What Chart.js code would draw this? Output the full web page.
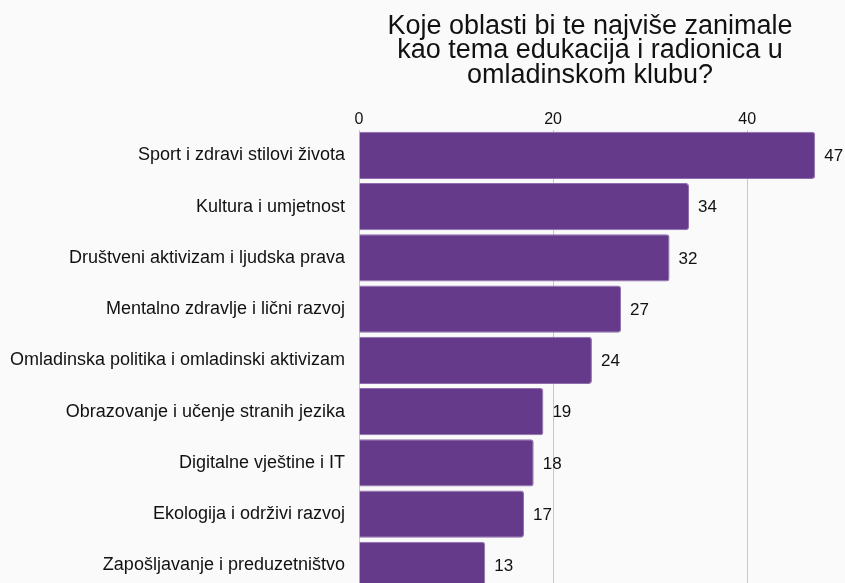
<!DOCTYPE html>
<html>
<head>
<meta charset="utf-8">
<script src="https://cdn.jsdelivr.net/npm/chart.js@4.4.1/dist/chart.umd.min.js"></script>
<style>
  html, body { margin: 0; padding: 0; background: #fafafa; }
  #wrap { width: 845px; height: 583px; overflow: hidden; }
  #box { width: 845px; height: 591px; }
</style>
</head>
<body>
<div id="wrap"><div id="box"><canvas id="myChart"></canvas></div></div>
<script>
// podaci sa grafikona
var kategorije = [
  'Sport i zdravi stilovi života',
  'Kultura i umjetnost',
  'Društveni aktivizam i ljudska prava',
  'Mentalno zdravlje i lični razvoj',
  'Omladinska politika i omladinski aktivizam',
  'Obrazovanje i učenje stranih jezika',
  'Digitalne vještine i IT',
  'Ekologija i održivi razvoj',
  'Zapošljavanje i preduzetništvo'
];
var odgovori = [47, 34, 32, 27, 24, 19, 18, 17, 13];
var osaTicks = [0, 20, 40];
var naslov = ['Koje oblasti bi te najviše zanimale', 'kao tema edukacija i radionica u', 'omladinskom klubu?'];

var font = "'Liberation Sans', Arial, Helvetica, sans-serif";

// brojevi desno od stubica
var vrijednostiPlugin = {
  id: 'vrijednosti',
  afterDatasetsDraw: function(chart) {
    var ctx = chart.ctx;
    var meta = chart.getDatasetMeta(0);
    ctx.save();
    ctx.fillStyle = '#111';
    ctx.font = '17px ' + font;
    ctx.textAlign = 'left';
    ctx.textBaseline = 'middle';
    meta.data.forEach(function(bar, i) {
      ctx.fillText(String(odgovori[i]), bar.x + 9, bar.y + 1);
    });
    ctx.restore();
  }
};

var ctx = document.getElementById('myChart').getContext('2d');
var chart = new Chart(ctx, {
  type: 'bar',
  data: {
    labels: kategorije,
    datasets: [{
      data: odgovori,
      backgroundColor: '#663a8a',
      borderColor: '#8f6fae',
      borderWidth: 1,
      borderSkipped: 'start',
      borderRadius: 3,
      categoryPercentage: 1,
      barPercentage: 0.92
    }]
  },
  options: {
    indexAxis: 'y',
    responsive: true,
    maintainAspectRatio: false,
    animation: false,
    layout: { padding: { left: 0, right: 24, top: 14, bottom: 0 } },
    plugins: {
      legend: { display: false },
      tooltip: { enabled: false },
      title: {
        display: true,
        fullSize: false,
        text: naslov,
        color: '#111',
        font: { family: font, size: 27, weight: 'normal', lineHeight: 0.907 },
        padding: { top: 0, bottom: 23 }
      }
    },
    scales: {
      x: {
        position: 'top',
        min: 0,
        max: 47.6,
        afterBuildTicks: function(axis) {
          axis.ticks = osaTicks.map(function(v) { return { value: v }; });
        },
        grid: { color: '#c8c8c8', lineWidth: 1, drawTicks: false },
        border: { display: false },
        ticks: { color: '#111', padding: 0, font: { family: font, size: 16 } }
      },
      y: {
        afterFit: function(axis) {
          axis.width = 359;
          axis.paddingTop = 0;
          axis.paddingBottom = 0;
        },
        grid: { display: false, drawTicks: false },
        border: { display: false },
        ticks: { color: '#111', padding: 14, font: { family: font, size: 18 } }
      }
    }
  },
  plugins: [vrijednostiPlugin]
});
</script>
</body>
</html>
